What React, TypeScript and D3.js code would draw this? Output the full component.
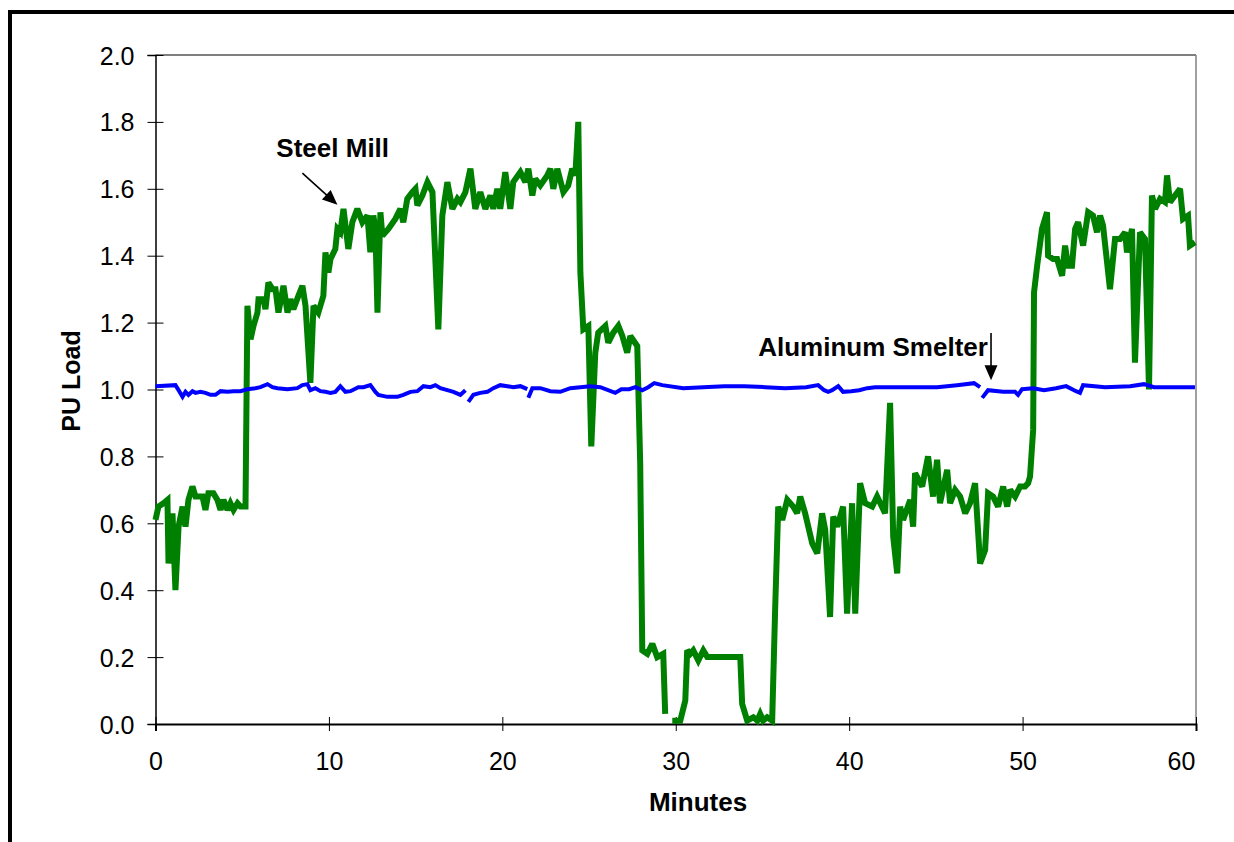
import React, { useEffect, useRef } from 'react';
import * as d3 from 'd3';

type Pt = [number, number | null];

// [minute, PU load] ; null marks a break in the trace
const steelMill: Pt[] = [
  [0, 0.61], [0.17, 0.65], [0.46, 0.66], [0.69, 0.67], [0.75, 0.48], [0.98, 0.63], [1.15, 0.40], [1.33, 0.59],
  [1.56, 0.65], [1.73, 0.59], [1.90, 0.67], [2.13, 0.71], [2.31, 0.68], [2.48, 0.68], [2.71, 0.68], [2.88, 0.64],
  [3.05, 0.69], [3.34, 0.69], [3.57, 0.67], [3.75, 0.64], [3.92, 0.67], [4.15, 0.64], [4.32, 0.66], [4.50, 0.64],
  [4.73, 0.66], [4.90, 0.65], [5.19, 0.65],
  [5.30, 1.25], [5.48, 1.15], [5.65, 1.19], [5.88, 1.23], [5.94, 1.27], [6.22, 1.27], [6.34, 1.24], [6.51, 1.32],
  [6.74, 1.30], [6.92, 1.30], [7.09, 1.23], [7.38, 1.31], [7.61, 1.23], [7.78, 1.27], [7.95, 1.24], [8.24, 1.28],
  [8.47, 1.31], [8.65, 1.25], [8.93, 1.02], [9.11, 1.25], [9.39, 1.23], [9.68, 1.28],
  [9.80, 1.41], [9.97, 1.35], [10.09, 1.39], [10.37, 1.42], [10.49, 1.48], [10.66, 1.47], [10.84, 1.54], [11.12, 1.42],
  [11.35, 1.50], [11.64, 1.54], [11.93, 1.50], [12.22, 1.52], [12.39, 1.41], [12.56, 1.52], [12.68, 1.48], [12.80, 1.23],
  [12.97, 1.53], [13.08, 1.46], [13.43, 1.48], [13.83, 1.51], [14.12, 1.54], [14.29, 1.50], [14.52, 1.57], [14.81, 1.59],
  [14.99, 1.60], [15.10, 1.55], [15.39, 1.58], [15.68, 1.62], [15.97, 1.59],
  [16.31, 1.18], [16.54, 1.52], [16.83, 1.62], [17.12, 1.54], [17.41, 1.57], [17.58, 1.56], [17.87, 1.59], [18.16, 1.66],
  [18.44, 1.54], [18.73, 1.59], [19.02, 1.54], [19.31, 1.58], [19.48, 1.54], [19.71, 1.60], [19.88, 1.54], [20.17, 1.65],
  [20.46, 1.54], [20.63, 1.62], [21.04, 1.65], [21.33, 1.62], [21.50, 1.66], [21.73, 1.58], [21.90, 1.63], [22.19, 1.61],
  [22.59, 1.64], [22.77, 1.66], [22.94, 1.60], [23.17, 1.66], [23.52, 1.59], [23.80, 1.61], [24.03, 1.66], [24.21, 1.64],
  [24.38, 1.80], [24.50, 1.35], [24.67, 1.18], [24.96, 1.19], [25.13, 0.83], [25.36, 1.11], [25.53, 1.17], [25.94, 1.19],
  [26.11, 1.14], [26.40, 1.17], [26.69, 1.19], [26.92, 1.16], [27.20, 1.11], [27.38, 1.16], [27.78, 1.13], [27.95, 0.78],
  [28.07, 0.22], [28.36, 0.21], [28.65, 0.24], [28.93, 0.20], [29.28, 0.21], [29.39, 0.03], [29.6, null],
  [29.80, 0.01], [30.26, 0.01], [30.55, 0.07], [30.66, 0.22], [30.84, 0.21], [31.01, 0.22], [31.30, 0.19], [31.59, 0.22],
  [31.82, 0.20], [33.72, 0.20], [33.83, 0.06], [34.12, 0.01], [34.47, 0.02], [34.70, 0.01], [34.87, 0.03], [35.04, 0.01],
  [35.27, 0.02], [35.56, 0.01],
  [35.73, 0.34], [35.91, 0.65], [36.14, 0.61], [36.43, 0.67], [36.77, 0.65], [37.00, 0.63], [37.18, 0.68], [37.46, 0.63],
  [37.87, 0.54], [38.16, 0.51], [38.44, 0.63], [38.62, 0.58], [38.90, 0.32], [39.08, 0.62], [39.31, 0.59], [39.65, 0.65],
  [39.88, 0.33], [40.17, 0.66], [40.35, 0.33], [40.63, 0.72], [40.92, 0.66], [41.33, 0.65], [41.61, 0.68], [42.07, 0.63],
  [42.36, 0.96], [42.54, 0.56], [42.77, 0.45], [42.94, 0.65], [43.11, 0.61], [43.52, 0.67], [43.69, 0.59], [43.80, 0.75],
  [44.21, 0.71], [44.55, 0.80], [44.84, 0.68], [45.07, 0.79], [45.24, 0.66], [45.65, 0.76], [45.82, 0.66], [46.11, 0.70],
  [46.40, 0.68], [46.69, 0.63], [46.97, 0.66], [47.26, 0.72], [47.55, 0.48], [47.84, 0.52], [48.01, 0.69], [48.30, 0.68],
  [48.59, 0.65], [48.88, 0.71], [49.11, 0.65], [49.28, 0.70], [49.57, 0.68], [49.86, 0.71], [50.14, 0.71], [50.32, 0.72],
  [50.43, 0.74],
  [50.61, 0.88], [50.66, 1.29], [50.84, 1.37], [51.12, 1.48], [51.41, 1.53], [51.47, 1.40], [51.76, 1.39], [51.99, 1.39],
  [52.28, 1.34], [52.45, 1.43], [52.62, 1.37], [52.85, 1.37], [53.03, 1.48], [53.20, 1.50], [53.49, 1.43], [53.78, 1.53],
  [54.06, 1.52], [54.29, 1.47], [54.47, 1.52], [54.64, 1.49], [55.04, 1.30], [55.33, 1.45], [55.62, 1.45], [55.91, 1.47],
  [56.02, 1.41], [56.31, 1.48], [56.48, 1.08], [56.77, 1.47], [57.06, 1.45], [57.29, 1.00], [57.46, 1.58], [57.64, 1.54],
  [57.93, 1.57], [58.21, 1.56], [58.33, 1.64], [58.50, 1.56], [58.79, 1.58], [59.08, 1.60], [59.25, 1.51], [59.54, 1.52],
  [59.65, 1.43], [59.94, 1.44],
];

const aluminumSmelter: Pt[] = [
  [0, 1.010], [1.15, 1.013], [1.33, 0.998], [1.56, 0.978], [1.73, 0.993], [1.90, 0.984], [2.13, 0.995], [2.31, 0.990],
  [2.59, 0.993], [2.88, 0.990], [3.17, 0.984], [3.46, 0.984], [3.75, 0.995], [4.15, 0.993], [4.50, 0.995], [4.90, 0.995],
  [5.30, 1.001], [5.76, 1.004], [6.05, 1.007], [6.46, 1.016], [6.74, 1.007], [7.03, 1.004], [7.61, 1.001], [8.18, 1.004],
  [8.47, 1.013], [8.76, 1.016], [8.93, 0.998], [9.22, 1.004], [9.51, 0.995], [9.80, 0.993], [10.09, 0.990], [10.37, 0.993],
  [10.66, 1.010], [10.95, 0.993], [11.24, 0.995], [11.70, 1.007], [11.99, 1.007], [12.39, 1.013], [12.68, 0.993],
  [12.85, 0.984], [13.37, 0.978], [13.95, 0.978], [14.29, 0.984], [14.70, 0.993], [15.10, 0.995], [15.45, 1.010],
  [15.85, 1.007], [16.14, 1.013], [16.43, 1.004], [16.83, 0.998], [17.18, 0.993], [17.58, 0.984], [17.87, 0.998],
  [17.95, null], [18.04, 0.963], [18.33, 0.984], [18.73, 0.990], [19.14, 0.993], [19.48, 1.004], [19.88, 1.013],
  [20.29, 1.010], [20.63, 1.007], [21.04, 1.010], [21.44, 1.001], [21.47, null], [21.50, 0.975], [21.73, 1.004],
  [22.19, 1.004], [22.77, 0.995], [23.34, 0.993], [23.92, 1.004], [24.50, 1.007], [25.07, 1.010], [25.65, 1.007],
  [26.51, 0.990], [26.86, 1.001], [27.32, 1.001], [27.67, 1.007], [28.07, 0.998], [28.41, 1.007], [28.76, 1.019],
  [29.22, 1.013], [30.43, 1.004], [31.59, 1.007], [32.80, 1.010], [33.95, 1.010], [35.16, 1.007], [36.31, 1.004],
  [37.52, 1.007], [38.21, 1.013], [38.56, 0.998], [38.79, 0.993], [39.02, 0.998], [39.37, 1.010], [39.65, 0.993],
  [40.12, 0.995], [40.58, 0.998], [41.04, 1.004], [41.50, 1.007], [42.71, 1.007], [43.86, 1.007], [45.07, 1.007],
  [46.22, 1.013], [47.20, 1.019], [47.55, 1.007], [47.61, null], [47.67, 0.975], [48.01, 0.998], [48.88, 0.993],
  [49.57, 0.993], [49.74, 0.984], [49.97, 1.001], [50.61, 1.004], [51.24, 0.998], [51.93, 1.004], [52.51, 1.010],
  [53.08, 0.995], [53.31, 0.990], [53.49, 1.013], [54.76, 1.007], [56.20, 1.010], [57.00, 1.016], [57.58, 1.007],
  [58.79, 1.007], [59.94, 1.007],
];

const xTicks = [0, 10, 20, 30, 40, 50, 60];
const yTicks = [0, 0.2, 0.4, 0.6, 0.8, 1.0, 1.2, 1.4, 1.6, 1.8, 2.0];

const FONT = '"Liberation Sans", Arial, Helvetica, sans-serif';

export default function App() {
  const chartRef = useRef<SVGSVGElement>(null);

  useEffect(() => {
    if (!chartRef.current) return;
    const svg = d3.select(chartRef.current);
    svg.selectAll('*').remove();

    const left = 155.5, right = 1196, top = 55, bottom = 724;
    const x = d3.scaleLinear().domain([0, 60]).range([left, right]);
    const y = d3.scaleLinear().domain([0, 2]).range([bottom, top]);

    // outer frame
    svg.append('rect')
      .attr('x', 10).attr('y', 12)
      .attr('width', 1300).attr('height', 900)
      .attr('fill', 'none').attr('stroke', '#000').attr('stroke-width', 4);

    // plot area border (top / right)
    svg.append('line').attr('x1', left).attr('x2', right).attr('y1', top).attr('y2', top)
      .attr('stroke', '#000').attr('stroke-width', 1.2);
    svg.append('line').attr('x1', right).attr('x2', right).attr('y1', top).attr('y2', bottom)
      .attr('stroke', '#808080').attr('stroke-width', 1.5);

    // Y axis
    const yAxis = svg.append('g')
      .attr('transform', `translate(${left},0)`)
      .call(d3.axisLeft(y).tickValues(yTicks).tickFormat(d3.format('.1f')).tickSize(8));
    yAxis.select('.domain').attr('stroke', '#000').attr('stroke-width', 1.5);
    yAxis.selectAll('.tick line').attr('x1', 8).attr('x2', -8).attr('stroke', '#000');
    yAxis.selectAll('.tick text')
      .attr('x', -21).attr('dy', '0.36em')
      .attr('font-family', FONT).attr('font-size', 25).attr('fill', '#000');

    // X axis
    const xAxis = svg.append('g')
      .attr('transform', `translate(0,${bottom})`)
      .call(d3.axisBottom(x).tickValues(xTicks).tickFormat(d3.format('d')).tickSize(7));
    xAxis.select('.domain').attr('stroke', '#000').attr('stroke-width', 2);
    xAxis.selectAll('.tick line').attr('y1', -7).attr('y2', 7).attr('stroke', '#000');
    xAxis.selectAll<SVGTextElement, number>('.tick text')
      .attr('y', 46).attr('dy', null)
      .attr('dx', d => (d === 60 ? -15 : 0))
      .attr('font-family', FONT).attr('font-size', 25).attr('fill', '#000');
    svg.selectAll('.domain').attr('fill', 'none');

    // series
    const line = d3.line<Pt>()
      .defined(d => d[1] !== null)
      .x(d => x(d[0]))
      .y(d => y(d[1] as number));

    svg.append('path')
      .datum(steelMill)
      .attr('d', line)
      .attr('fill', 'none')
      .attr('stroke', '#008000')
      .attr('stroke-width', 6)
      .attr('stroke-linejoin', 'miter')
      .attr('stroke-miterlimit', 2.5);

    svg.append('path')
      .datum(aluminumSmelter)
      .attr('d', line)
      .attr('fill', 'none')
      .attr('stroke', '#0000ff')
      .attr('stroke-width', 4)
      .attr('stroke-linejoin', 'miter')
      .attr('stroke-miterlimit', 2);

    // axis titles
    svg.append('text')
      .attr('x', 698).attr('y', 811)
      .attr('text-anchor', 'middle')
      .attr('font-family', FONT).attr('font-size', 26).attr('font-weight', 'bold')
      .text('Minutes');

    svg.append('text')
      .attr('transform', 'translate(80,381) rotate(-90)')
      .attr('text-anchor', 'middle')
      .attr('font-family', FONT).attr('font-size', 25).attr('font-weight', 'bold')
      .text('PU Load');

    // annotations
    const arrowHead = (x1: number, y1: number, x2: number, y2: number) => {
      const ang = Math.atan2(y2 - y1, x2 - x1);
      const len = 15, hw = 6.5;
      const bx = x2 - len * Math.cos(ang), by = y2 - len * Math.sin(ang);
      const px = -Math.sin(ang) * hw, py = Math.cos(ang) * hw;
      return `M${x2},${y2}L${bx + px},${by + py}L${bx - px},${by - py}Z`;
    };

    const drawArrow = (m1: number, v1: number, m2: number, v2: number) => {
      const x1 = x(m1), y1 = y(v1), x2 = x(m2), y2 = y(v2);
      const ang = Math.atan2(y2 - y1, x2 - x1);
      svg.append('line')
        .attr('x1', x1).attr('y1', y1)
        .attr('x2', x2 - 10 * Math.cos(ang)).attr('y2', y2 - 10 * Math.sin(ang))
        .attr('stroke', '#000').attr('stroke-width', 1.6);
      svg.append('path').attr('d', arrowHead(x1, y1, x2, y2)).attr('fill', '#000');
    };

    svg.append('text')
      .attr('x', x(6.97)).attr('y', y(1.695))
      .attr('font-family', FONT).attr('font-size', 26).attr('font-weight', 'bold')
      .text('Steel Mill');
    drawArrow(8.47, 1.647, 10.49, 1.552);

    svg.append('text')
      .attr('x', x(48.0)).attr('y', y(1.10))
      .attr('text-anchor', 'end')
      .attr('font-family', FONT).attr('font-size', 26).attr('font-weight', 'bold')
      .text('Aluminum Smelter');
    drawArrow(48.18, 1.169, 48.18, 1.028);
  }, []);

  return (
    <div style={{ position: 'fixed', left: 0, top: 0, width: 1234, height: 842, background: '#fff', overflow: 'hidden' }}>
      <svg ref={chartRef} width={1234} height={842}></svg>
    </div>
  );
}
